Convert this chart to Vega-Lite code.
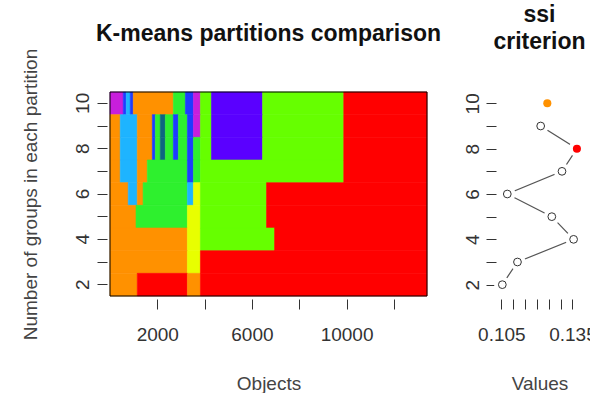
{
  "$schema": "https://vega.github.io/schema/vega-lite/v6.json",
  "background": "white",
  "padding": {"left": 20, "top": 4, "right": 5, "bottom": 5},
  "config": {
    "font": "Liberation Sans",
    "view": {"stroke": null},
    "axis": {
      "domain": false, "grid": false, "tickColor": "#333", "labelColor": "#333", "titleColor": "#444",
      "labelFontSize": 19, "titleFontSize": 19, "titleFontWeight": "normal", "tickSize": 10, "offset": 3,
      "labelFont": "Liberation Sans", "titleFont": "Liberation Sans", "zindex": 1,
      "labelOverlap": false, "labelFlush": false
    },
    "title": {"fontSize": 23, "fontWeight": "bold", "color": "#111", "font": "Liberation Sans"}
  },
  "datasets": {
    "partitions": [
      {"k":10,"x0":0,"x1":559,"g":"g9"},{"k":10,"x0":559,"x1":686,"g":"g7"},{"k":10,"x0":686,"x1":856,"g":"g6"},{"k":10,"x0":856,"x1":983,"g":"g7"},{"k":10,"x0":983,"x1":2678,"g":"g2"},{"k":10,"x0":2678,"x1":3186,"g":"g5"},{"k":10,"x0":3186,"x1":3525,"g":"g7"},{"k":10,"x0":3525,"x1":3822,"g":"g9"},{"k":10,"x0":3822,"x1":4288,"g":"g4"},{"k":10,"x0":4288,"x1":6449,"g":"g8"},{"k":10,"x0":6449,"x1":9881,"g":"g4"},{"k":10,"x0":9881,"x1":13400,"g":"g1"},
      {"k":9,"x0":0,"x1":432,"g":"g2"},{"k":9,"x0":432,"x1":1153,"g":"g6"},{"k":9,"x0":1153,"x1":1788,"g":"g2"},{"k":9,"x0":1788,"x1":1915,"g":"g7"},{"k":9,"x0":1915,"x1":2127,"g":"g5"},{"k":9,"x0":2127,"x1":2339,"g":"g10"},{"k":9,"x0":2339,"x1":2678,"g":"g5"},{"k":9,"x0":2678,"x1":2890,"g":"g7"},{"k":9,"x0":2890,"x1":3271,"g":"g5"},{"k":9,"x0":3271,"x1":3525,"g":"g7"},{"k":9,"x0":3525,"x1":3822,"g":"g9"},{"k":9,"x0":3822,"x1":4288,"g":"g4"},{"k":9,"x0":4288,"x1":6449,"g":"g8"},{"k":9,"x0":6449,"x1":9881,"g":"g4"},{"k":9,"x0":9881,"x1":13400,"g":"g1"},
      {"k":8,"x0":0,"x1":432,"g":"g2"},{"k":8,"x0":432,"x1":1153,"g":"g6"},{"k":8,"x0":1153,"x1":1788,"g":"g2"},{"k":8,"x0":1788,"x1":1915,"g":"g7"},{"k":8,"x0":1915,"x1":2127,"g":"g5"},{"k":8,"x0":2127,"x1":2339,"g":"g10"},{"k":8,"x0":2339,"x1":2678,"g":"g5"},{"k":8,"x0":2678,"x1":2890,"g":"g7"},{"k":8,"x0":2890,"x1":3271,"g":"g5"},{"k":8,"x0":3271,"x1":3525,"g":"g7"},{"k":8,"x0":3525,"x1":3822,"g":"g5"},{"k":8,"x0":3822,"x1":4288,"g":"g4"},{"k":8,"x0":4288,"x1":6449,"g":"g8"},{"k":8,"x0":6449,"x1":9881,"g":"g4"},{"k":8,"x0":9881,"x1":13400,"g":"g1"},
      {"k":7,"x0":0,"x1":432,"g":"g2"},{"k":7,"x0":432,"x1":1153,"g":"g6"},{"k":7,"x0":1153,"x1":1576,"g":"g2"},{"k":7,"x0":1576,"x1":3271,"g":"g5"},{"k":7,"x0":3271,"x1":3525,"g":"g7"},{"k":7,"x0":3525,"x1":3822,"g":"g5"},{"k":7,"x0":3822,"x1":9881,"g":"g4"},{"k":7,"x0":9881,"x1":13400,"g":"g1"},
      {"k":6,"x0":0,"x1":771,"g":"g2"},{"k":6,"x0":771,"x1":1153,"g":"g6"},{"k":6,"x0":1153,"x1":1400,"g":"g2"},{"k":6,"x0":1400,"x1":3271,"g":"g5"},{"k":6,"x0":3271,"x1":3525,"g":"g6"},{"k":6,"x0":3525,"x1":3822,"g":"g3"},{"k":6,"x0":3822,"x1":6618,"g":"g4"},{"k":6,"x0":6618,"x1":13400,"g":"g1"},
      {"k":5,"x0":0,"x1":1100,"g":"g2"},{"k":5,"x0":1100,"x1":3271,"g":"g5"},{"k":5,"x0":3271,"x1":3822,"g":"g3"},{"k":5,"x0":3822,"x1":6618,"g":"g4"},{"k":5,"x0":6618,"x1":13400,"g":"g1"},
      {"k":4,"x0":0,"x1":3271,"g":"g2"},{"k":4,"x0":3271,"x1":3822,"g":"g3"},{"k":4,"x0":3822,"x1":6957,"g":"g4"},{"k":4,"x0":6957,"x1":13400,"g":"g1"},
      {"k":3,"x0":0,"x1":3271,"g":"g2"},{"k":3,"x0":3271,"x1":3822,"g":"g3"},{"k":3,"x0":3822,"x1":13400,"g":"g1"},
      {"k":2,"x0":0,"x1":1153,"g":"g2"},{"k":2,"x0":1153,"x1":3271,"g":"g1"},{"k":2,"x0":3271,"x1":3822,"g":"g2"},{"k":2,"x0":3822,"x1":13400,"g":"g1"}
    ],
    "ssi": [
      {"k":2,"v":0.1054,"role":"open"},
      {"k":3,"v":0.1118,"role":"open"},
      {"k":4,"v":0.1355,"role":"open"},
      {"k":5,"v":0.1263,"role":"open"},
      {"k":6,"v":0.1075,"role":"open"},
      {"k":7,"v":0.1306,"role":"open"},
      {"k":8,"v":0.1369,"role":"max"},
      {"k":9,"v":0.1216,"role":"open"},
      {"k":10,"v":0.1244,"role":"extra"}
    ]
  },
  "spacing": 72,
  "bounds": "flush",
  "hconcat": [
    {
      "width": 317,
      "height": 204,
      "title": {"text": "K-means partitions comparison", "anchor": "middle", "frame": "group", "baseline": "alphabetic", "offset": -15.5},
      "layer": [
        {
          "data": {"name": "partitions"},
          "mark": {"type": "rect", "strokeWidth": 0.6},
          "encoding": {
            "x": {"field": "x0", "type": "quantitative",
              "scale": {"domain": [0, 13400], "nice": false, "zero": false},
              "axis": {"values": [2000, 4000, 6000, 8000, 10000, 12000], "format": "d",
                "labelExpr": "(datum.value == 2000 || datum.value == 6000 || datum.value == 10000) ? datum.label : ''",
                "title": "Objects", "labelPadding": 16, "titlePadding": 30}},
            "x2": {"field": "x1"},
            "y": {"field": "k", "type": "ordinal",
              "scale": {"domain": [10, 9, 8, 7, 6, 5, 4, 3, 2], "paddingInner": 0, "paddingOuter": 0},
              "axis": {"labelExpr": "datum.value % 2 == 0 ? datum.label : ''", "labelAngle": 270, "labelAlign": "center",
                "labelBaseline": "alphabetic", "labelPadding": 9,
                "title": "Number of groups in each partition", "titlePadding": 33}},
            "color": {"field": "g", "type": "nominal", "legend": null,
              "scale": {"domain": ["g1","g2","g3","g4","g5","g6","g7","g8","g9","g10"],
                "range": ["#FF0000","#FF9100","#E8FF00","#66FF00","#2EF02E","#1EB4FF","#1E3CFF","#5A00FF","#C81EDC","#0E6680"]}},
            "stroke": {"field": "g", "type": "nominal", "legend": null,
              "scale": {"domain": ["g1","g2","g3","g4","g5","g6","g7","g8","g9","g10"],
                "range": ["#FF0000","#FF9100","#E8FF00","#66FF00","#2EF02E","#1EB4FF","#1E3CFF","#5A00FF","#C81EDC","#0E6680"]}}
          }
        },
        {
          "data": {"values": [{}]},
          "mark": {"type": "rect", "filled": false, "stroke": "black", "strokeWidth": 1},
          "encoding": {
            "x": {"datum": 0, "type": "quantitative"},
            "x2": {"datum": 13400}
          }
        }
      ]
    },
    {
      "width": 81,
      "height": 204,
      "title": {"text": ["ssi", "criterion"], "anchor": "middle", "frame": "group", "baseline": "alphabetic", "offset": 20, "lineHeight": 27},
      "data": {"name": "ssi"},
      "encoding": {
        "x": {"field": "v", "type": "quantitative",
          "scale": {"domain": [0.104, 0.1382], "nice": false, "zero": false},
          "axis": {"values": [0.105, 0.11, 0.115, 0.12, 0.125, 0.13, 0.135], "format": ".3f",
            "labelExpr": "(datum.value < 0.1055 || datum.value > 0.1345) ? datum.label : ''",
            "title": "Values", "labelPadding": 16, "titlePadding": 30}},
        "y": {"field": "k", "type": "quantitative",
          "scale": {"domain": [1.5, 10.5], "nice": false, "zero": false},
          "axis": {"values": [2, 3, 4, 5, 6, 7, 8, 9, 10],
            "labelExpr": "datum.value % 2 == 0 ? datum.label : ''", "labelAngle": 270, "labelAlign": "center",
            "labelBaseline": "alphabetic", "labelPadding": 8, "title": null}}
      },
      "layer": [
        {
          "transform": [{"filter": "datum.role != 'extra'"}],
          "mark": {"type": "line", "color": "#555", "strokeWidth": 1.2},
          "encoding": {"order": {"field": "k", "type": "quantitative"}}
        },
        {
          "transform": [{"filter": "datum.role != 'extra'"}],
          "mark": {"type": "point", "shape": "circle", "filled": true, "color": "white", "opacity": 1, "size": 270}
        },
        {
          "transform": [{"filter": "datum.role == 'open'"}],
          "mark": {"type": "point", "shape": "circle", "filled": false, "color": "#333", "opacity": 1, "size": 60, "strokeWidth": 1}
        },
        {
          "transform": [{"filter": "datum.role != 'open'"}],
          "mark": {"type": "point", "shape": "circle", "filled": true, "opacity": 1, "size": 65},
          "encoding": {
            "color": {"field": "role", "type": "nominal", "legend": null,
              "scale": {"domain": ["max", "extra"], "range": ["#E8112D", "#F2A43A"]}}
          }
        },
        {
          "data": {"values": [{}]},
          "mark": {"type": "rect", "filled": false, "stroke": "black", "strokeWidth": 1},
          "encoding": {
            "x": {"datum": 0.104, "type": "quantitative"},
            "x2": {"datum": 0.1382},
            "y": {"datum": 1.5, "type": "quantitative"},
            "y2": {"datum": 10.5}
          }
        }
      ]
    }
  ]
}
